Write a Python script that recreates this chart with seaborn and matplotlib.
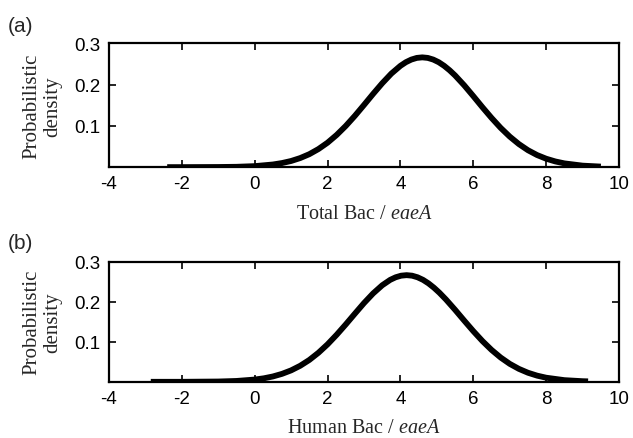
import matplotlib
matplotlib.use("Agg")
import matplotlib.pyplot as plt
import seaborn as sns
import pandas as pd

# values
x_total = [-2.4, -2.0, -1.0, -0.5, 0.0, 0.5, 0.75, 1.0, 1.25, 1.5, 1.75, 2.0, 2.25,
           2.5, 2.75, 3.0, 3.25, 3.5, 3.75, 4.0, 4.15, 4.3, 4.45, 4.6, 4.75, 4.9,
           5.05, 5.2, 5.35, 5.5, 5.75, 6.0, 6.25, 6.5, 6.75, 7.0, 7.25, 7.5, 7.75,
           8.0, 8.25, 8.5, 9.0, 9.5]
y_total = [0.0, 0.0, 0.0003, 0.0008, 0.0024, 0.0064, 0.0099, 0.0149, 0.0220, 0.0314,
           0.0438, 0.0592, 0.0780, 0.0998, 0.1243, 0.1506, 0.1774, 0.2032, 0.2266,
           0.2455, 0.2543, 0.2607, 0.2647, 0.2660, 0.2647, 0.2607, 0.2543, 0.2455,
           0.2347, 0.2222, 0.1983, 0.1721, 0.1452, 0.1193, 0.0952, 0.0740, 0.0559,
           0.0410, 0.0293, 0.0204, 0.0138, 0.0091, 0.0036, 0.0013]

x_human = [-2.85, -2.0, -1.0, -0.5, 0.0, 0.25, 0.5, 0.75, 1.0, 1.25, 1.5, 1.75, 2.0,
           2.25, 2.5, 2.75, 3.0, 3.25, 3.5, 3.72, 3.87, 4.02, 4.17, 4.32, 4.47, 4.62,
           4.77, 4.92, 5.07, 5.25, 5.5, 5.75, 6.0, 6.25, 6.5, 6.75, 7.0, 7.25, 7.5,
           7.75, 8.0, 8.5, 9.0, 9.15]
y_human = [0.0, 0.0, 0.0007, 0.0021, 0.0056, 0.0087, 0.0133, 0.0198, 0.0285, 0.0400,
           0.0545, 0.0724, 0.0934, 0.1173, 0.1431, 0.1699, 0.1963, 0.2204, 0.2407,
           0.2543, 0.2607, 0.2647, 0.2660, 0.2647, 0.2607, 0.2543, 0.2455, 0.2347,
           0.2222, 0.2053, 0.1796, 0.1527, 0.1264, 0.1017, 0.0796, 0.0606, 0.0448,
           0.0323, 0.0226, 0.0154, 0.0102, 0.0041, 0.0015, 0.0011]

x_ticks = [-4, -2, 0, 2, 4, 6, 8, 10]
y_ticks = [0.1, 0.2, 0.3]

panels = [
    ("(a)", "Total Bac", pd.DataFrame({"x": x_total, "y": y_total})),
    ("(b)", "Human Bac", pd.DataFrame({"x": x_human, "y": y_human})),
]

sns.set_theme(style="ticks")
plt.rcParams["font.family"] = ["Liberation Sans", "DejaVu Sans"]
plt.rcParams["axes.unicode_minus"] = False
plt.rcParams["mathtext.fontset"] = "custom"
plt.rcParams["mathtext.rm"] = "Liberation Serif"
plt.rcParams["mathtext.it"] = "Liberation Serif:italic"

fig = plt.figure(figsize=(6.33, 4.39), dpi=100)
fig.patch.set_facecolor("white")

rects = [[0.172, 0.617, 0.806, 0.282], [0.172, 0.128, 0.806, 0.274]]
label_y = [0.94, 0.445]

for (tag, name, df), rect, ly in zip(panels, rects, label_y):
    ax = fig.add_axes(rect)
    sns.lineplot(data=df, x="x", y="y", ax=ax, color="black", linewidth=4.2,
                 solid_capstyle="butt", solid_joinstyle="round")
    ax.set_xlim(-4, 10)
    ax.set_ylim(0, 0.3)
    ax.set_xticks(x_ticks)
    ax.set_xticklabels([str(t) for t in x_ticks])
    ax.set_yticks(y_ticks)
    ax.set_yticklabels(["0.1", "0.2", "0.3"])
    ax.tick_params(direction="in", length=5, width=1.2, top=True, right=True,
                   labelsize=13.5, pad=6, colors="black")
    for sp in ax.spines.values():
        sp.set_linewidth(1.6)
        sp.set_color("black")
    ax.set_xlabel(name + r" / $\it{eaeA}$", family="Liberation Serif", fontsize=14.5,
                  labelpad=8)
    ax.set_ylabel("Probabilistic\ndensity", family="Liberation Serif", fontsize=15,
                  labelpad=9, linespacing=1.1)
    fig.text(0.012, ly, tag, fontsize=15, ha="left", va="center")

plt.savefig("out.png", dpi=100)
